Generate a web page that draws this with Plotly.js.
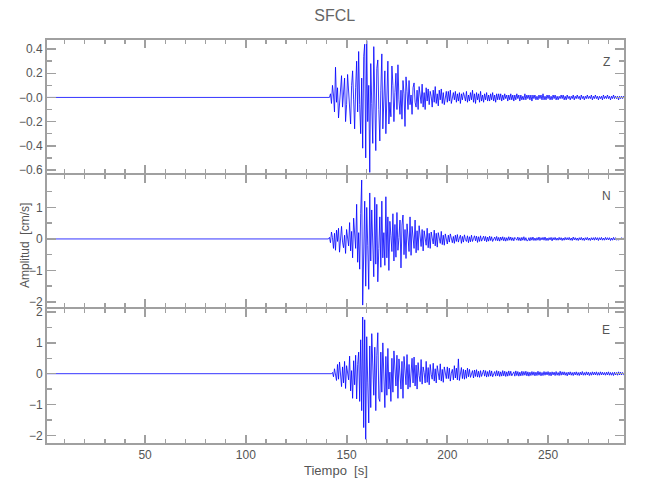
<!DOCTYPE html>
<html>
<head>
<meta charset="utf-8">
<script src="https://cdn.plot.ly/plotly-3.0.1.min.js"></script>
<style>html,body{margin:0;padding:0;background:#fff;}#chart{width:650px;height:500px;}</style>
</head>
<body>
<div id="chart"></div>
<script>
// Sampling of the recorded traces (seconds)
const startTime = 140;
const sampleStep = 0.5;

// Z component [cm/s], from 140 s to 288 s
const zValues = [
0,0,0,0,0.03,-0.05,0.10,0.02,-0.12,0.25,
-0.04,0.08,-0.17,-0.05,0.14,0.18,-0.08,0.04,0.16,-0.20,
-0.06,0.19,0.05,-0.12,-0.22,0.10,0.22,-0.02,-0.26,0.08,
0.30,-0.12,0.38,-0.06,-0.30,0.16,-0.42,0.34,0.44,-0.50,
0.47,-0.20,0.10,-0.62,0.28,-0.05,-0.38,0.42,-0.16,-0.44,
0.24,0.31,-0.10,-0.36,0.06,0.36,-0.26,-0.08,0.22,-0.30,
0.12,0.30,-0.22,-0.04,-0.16,0.26,0.10,-0.20,0.04,0.20,
-0.10,0.27,-0.02,-0.14,0.06,-0.18,0.14,0.03,-0.24,0.17,
0.05,-0.10,0.14,-0.06,0.02,-0.14,0.08,0.12,-0.04,-0.08,
0.06,-0.10,0.09,0.01,-0.05,0.11,-0.08,0.04,-0.10,0.08,
-0.03,0.07,-0.06,0.05,0.01,-0.08,0.06,-0.04,0.09,-0.05,
0.03,-0.07,0.06,-0.02,0.07,-0.05,0.04,-0.06,0.01,0.05,
-0.04,0.05,-0.03,0.06,-0.05,0.01,0.04,-0.02,0.05,-0.04,
0.03,-0.03,0.04,-0.05,0.03,-0.02,0.04,0.01,-0.03,0.05,
-0.04,0.02,-0.03,0.04,-0.02,0.06,-0.04,0.03,-0.05,0.04,
-0.02,0.03,-0.04,0.05,-0.03,0.02,-0.04,0.03,-0.02,0.04,
-0.03,0.02,-0.03,0.03,-0.02,0.04,-0.03,0.02,-0.04,0.03,
-0.02,0.03,-0.02,0.03,-0.03,0.02,-0.02,0.03,-0.01,0.02,
-0.03,0.02,-0.02,0.03,-0.02,0.02,-0.03,0.02,-0.02,0.03,
-0.01,0.02,-0.03,0.02,-0.02,0.01,-0.02,0.03,-0.02,0.02,
-0.01,0.02,-0.02,0.02,-0.03,0.02,-0.01,0.02,-0.02,0.01,
-0.02,0.02,-0.01,0.02,-0.02,0.03,-0.02,0.01,-0.02,0.02,
-0.01,0.02,-0.02,0.01,-0.02,0.02,-0.01,0.02,-0.02,0.01,
-0.02,0.01,-0.01,0.02,-0.01,0.02,-0.02,0.01,-0.02,0.02,
-0.01,0.01,-0.02,0.01,-0.01,0.02,-0.02,0.01,-0.01,0.02,
-0.01,0.01,-0.02,0.02,-0.01,0.01,-0.02,0.01,-0.01,0.02,
-0.01,0.01,-0.01,0.02,-0.02,0.01,-0.01,0.02,-0.01,0.01,
-0.02,0.01,-0.01,0.01,-0.02,0.02,-0.01,0.01,-0.01,0.02,
-0.01,0.01,-0.02,0.01,-0.01,0.02,-0.01,0.01,-0.01,0.01,
-0.02,0.01,-0.01,0.01,-0.01,0.01,0.00
];

// N component [cm/s]
const nValues = [
0,0,0,0.05,-0.12,0.22,0.04,-0.30,0.18,-0.36,
0.28,-0.08,0.34,-0.42,0.16,0.40,-0.10,-0.28,0.12,-0.46,
0.30,0.05,-0.22,0.52,-0.38,0.24,-0.60,0.66,0.10,-0.30,
1.10,-0.74,0.20,-0.96,0.80,1.87,-2.10,0.30,1.20,-1.50,
1.00,-0.20,-1.60,1.46,-0.70,0.92,0.10,-1.20,1.32,-0.80,
1.10,-1.36,-0.30,0.70,-0.90,1.20,-0.60,0.20,-0.84,1.34,
-0.60,0.70,-1.00,0.56,0.10,-0.40,0.80,-0.70,0.46,-0.58,
0.84,-0.36,0.05,0.60,-0.92,0.44,0.76,-0.50,0.30,-0.62,
0.48,-0.10,-0.40,0.70,-0.52,0.40,0.02,-0.30,0.60,-0.44,
0.26,-0.36,0.42,-0.04,-0.24,0.30,-0.38,0.26,0.08,-0.20,
0.34,-0.28,0.18,-0.30,0.22,0.02,-0.16,0.28,-0.22,0.18,
-0.26,0.20,-0.04,-0.14,0.24,-0.18,0.12,-0.20,0.16,-0.06,
-0.16,0.12,-0.10,0.16,0.02,-0.12,0.08,-0.14,0.12,-0.08,
0.14,-0.10,0.03,0.12,-0.14,0.08,-0.10,0.13,-0.02,-0.08,
0.10,-0.12,0.07,-0.09,0.12,-0.08,0.01,0.10,-0.06,0.09,
-0.11,0.07,-0.08,0.10,-0.07,0.02,0.09,-0.06,0.08,-0.09,
0.06,-0.07,0.09,-0.05,0.07,-0.08,0.01,0.06,-0.05,0.08,
-0.06,0.05,-0.07,0.06,-0.04,0.07,-0.06,0.05,-0.07,0.04,
-0.05,0.07,-0.04,0.06,-0.05,0.04,-0.06,0.05,0.01,-0.04,
0.06,-0.05,0.04,-0.06,0.05,-0.04,0.07,-0.05,0.04,-0.06,
-0.05,0.04,-0.06,0.05,-0.04,0.06,-0.05,0.03,-0.05,0.04,
-0.04,0.06,-0.05,0.04,-0.03,0.05,-0.04,0.06,-0.05,0.03,
-0.05,0.04,-0.03,0.05,-0.06,0.04,-0.03,0.05,-0.04,0.03,
-0.04,0.05,-0.03,0.04,-0.05,0.03,-0.04,0.05,-0.03,0.04,
-0.03,0.05,-0.04,0.03,-0.05,0.06,-0.03,0.04,-0.04,0.03,
-0.05,0.04,-0.03,0.05,-0.04,0.03,-0.05,0.04,-0.03,0.05,
-0.04,0.03,-0.05,0.04,-0.03,0.04,-0.04,0.05,-0.03,0.04,
-0.05,0.04,-0.03,0.05,-0.04,0.03,-0.04,0.05,-0.03,0.04,
-0.03,0.04,-0.05,0.03,-0.04,0.05,-0.03,0.04,-0.04,0.03,
-0.04,0.03,-0.03,0.04,-0.03,0.02,0.00
];

// E component [cm/s]
const eValues = [
0,0,0,0,0,0,0.04,-0.10,0.16,0.02,
-0.22,0.30,-0.18,0.38,-0.02,-0.42,0.22,-0.30,0.40,-0.48,
0.26,0.08,-0.20,0.57,-0.56,0.10,-0.80,0.42,-0.36,0.60,
-0.82,0.30,0.70,-0.90,1.10,-1.20,1.84,-1.75,1.75,-2.13,
1.20,-0.30,-1.60,0.90,-1.10,1.30,0.20,-0.70,0.86,-1.20,
0.60,1.33,-0.80,-0.90,0.70,-0.60,1.00,0.10,-1.10,0.56,
-0.70,0.82,-0.50,0.05,-0.90,0.50,-0.60,0.74,0.10,-0.40,
0.60,-0.80,0.48,-0.10,-0.50,0.40,-0.80,0.56,0.05,-0.36,
0.62,-0.50,0.30,-0.44,0.02,0.50,-0.30,0.54,-0.40,0.28,
-0.50,0.36,-0.06,-0.26,0.46,-0.34,0.22,0.04,-0.30,0.40,
-0.28,0.20,-0.36,0.30,-0.02,-0.18,0.34,-0.24,0.16,-0.30,
0.26,-0.04,-0.20,0.32,-0.24,0.14,-0.28,0.22,0.02,-0.16,
0.22,-0.16,0.18,-0.24,0.02,0.14,-0.20,0.26,-0.14,0.18,
-0.20,0.48,-0.22,0.06,0.20,-0.16,0.14,-0.18,0.12,-0.15,
0.18,-0.10,0.14,-0.12,0.01,0.10,-0.14,0.12,-0.09,0.13,
-0.11,0.08,-0.12,0.10,-0.09,0.02,0.12,-0.08,0.10,-0.11,
0.07,-0.09,0.11,-0.08,0.09,-0.10,0.01,0.07,-0.08,0.10,
-0.07,0.08,-0.09,0.06,-0.08,0.10,-0.07,0.08,-0.09,0.06,
-0.08,0.09,-0.06,0.08,-0.07,0.01,0.06,-0.08,0.09,-0.06,
0.07,-0.08,0.05,-0.07,0.08,-0.06,0.07,-0.05,0.08,-0.07,
0.06,-0.08,0.05,-0.06,0.07,-0.05,0.06,-0.07,0.05,-0.06,
0.08,-0.05,0.06,-0.07,0.04,-0.06,0.07,-0.05,0.06,-0.04,
0.07,-0.06,0.05,-0.07,0.06,-0.04,0.05,-0.06,0.07,-0.05,
0.04,-0.06,0.08,-0.05,0.06,-0.04,0.06,-0.05,0.04,-0.07,
0.05,-0.04,0.06,-0.05,0.04,-0.06,0.05,-0.04,0.06,-0.05,
0.04,-0.06,0.05,-0.04,0.07,-0.05,0.04,-0.05,0.06,-0.04,
0.05,-0.06,0.04,-0.05,0.06,-0.04,0.05,-0.04,0.06,-0.05,
0.04,-0.05,0.06,-0.04,0.05,-0.04,0.04,-0.05,0.05,-0.04,
0.06,-0.05,0.04,-0.05,0.04,-0.06,0.05,-0.04,0.04,-0.05,
0.06,-0.04,0.05,-0.04,0.04,-0.03,0.00
];

// Tick labels
const xTickVals = [50, 100, 150, 200, 250];
const xTickText = ['50', '100', '150', '200', '250'];
const zTickVals = [0.4, 0.2, 0, -0.2, -0.4, -0.6];
const zTickText = ['0.4', '0.2', '\u22120.0', '\u22120.2', '\u22120.4', '\u22120.6'];
const nTickVals = [1, 0, -1, -2];
const nTickText = ['1', '0', '\u22121', '\u22122'];
const eTickVals = [2, 1, 0, -1, -2];
const eTickText = ['2', '1', '0', '\u22121', '\u22122'];
const componentNames = ['Z', 'N', 'E'];

function buildTimes(n) {
  const arr = [0];
  for (let i = 0; i < n; i++) arr.push(startTime + i * sampleStep);
  return arr;
}
function withLead(v) { return [0].concat(v); }

const lineStyle = {color: '#0000ff', width: 0.8};
const traces = [
  {x: buildTimes(zValues.length), y: withLead(zValues), xaxis: 'x', yaxis: 'y', type: 'scatter', mode: 'lines', line: lineStyle, hoverinfo: 'skip'},
  {x: buildTimes(nValues.length), y: withLead(nValues), xaxis: 'x2', yaxis: 'y2', type: 'scatter', mode: 'lines', line: lineStyle, hoverinfo: 'skip'},
  {x: buildTimes(eValues.length), y: withLead(eValues), xaxis: 'x3', yaxis: 'y3', type: 'scatter', mode: 'lines', line: lineStyle, hoverinfo: 'skip'}
];

const FONT = '"Liberation Sans", Arial, sans-serif';
const axisColor = '#a0a0a0';
const textColor = '#555';
const xRange = [1.3, 287.7];

function xAxis(anchor, showLabels) {
  const ax = {
    anchor: anchor, range: xRange, showgrid: false, zeroline: false,
    showline: true, linecolor: axisColor, linewidth: 2, mirror: 'ticks',
    ticks: 'inside', ticklen: 8, tickwidth: 2, tickcolor: axisColor,
    tickvals: xTickVals, ticktext: xTickText, showticklabels: showLabels,
    tickfont: {family: FONT, size: 12, color: textColor},
    minor: {dtick: 10, tick0: 0, ticks: 'inside', ticklen: 4, tickwidth: 1.5, tickcolor: axisColor, showgrid: false}
  };
  if (anchor !== 'y') ax.matches = 'x';
  return ax;
}
function yAxis(anchorX, domain, range, vals, text, minorStep) {
  return {
    anchor: anchorX, domain: domain, range: range, showgrid: false, zeroline: false,
    showline: true, linecolor: axisColor, linewidth: 2, mirror: 'ticks',
    ticks: 'inside', ticklen: 9, tickwidth: 1.5, tickcolor: axisColor,
    tickvals: vals, ticktext: text,
    tickfont: {family: FONT, size: 12, color: textColor},
    minor: {dtick: minorStep, tick0: 0, ticks: 'inside', ticklen: 5, tickwidth: 1.5, tickcolor: axisColor, showgrid: false}
  };
}

const layout = {
  width: 650, height: 500,
  margin: {l: 47, r: 26, t: 40, b: 57},
  paper_bgcolor: '#fff', plot_bgcolor: '#fff',
  showlegend: false,
  title: {text: 'SFCL', font: {family: FONT, size: 16, color: '#666'}, x: 0.515, xanchor: 'center', y: 0.97, yanchor: 'middle', yref: 'container'},
  xaxis: xAxis('y', false),
  xaxis2: xAxis('y2', false),
  xaxis3: xAxis('y3', true),
  yaxis: yAxis('x', [0.67, 1], [-0.625, 0.475], zTickVals, zTickText, 0.1),
  yaxis2: yAxis('x2', [0.3375, 0.665], [-2.16, 2.03], nTickVals, nTickText, 0.5),
  yaxis3: yAxis('x3', [0, 0.3325], [-2.25, 2.1], eTickVals, eTickText, 0.5),
  annotations: [
    {text: componentNames[0], xref: 'paper', yref: 'paper', x: 0.969, y: 0.945, xanchor: 'center', yanchor: 'middle', showarrow: false, font: {family: FONT, size: 12, color: textColor}},
    {text: componentNames[1], xref: 'paper', yref: 'paper', x: 0.969, y: 0.613, xanchor: 'center', yanchor: 'middle', showarrow: false, font: {family: FONT, size: 12, color: textColor}},
    {text: componentNames[2], xref: 'paper', yref: 'paper', x: 0.969, y: 0.280, xanchor: 'center', yanchor: 'middle', showarrow: false, font: {family: FONT, size: 12, color: textColor}},
    {text: 'Amplitud  [cm/s]', xref: 'paper', yref: 'paper', x: -0.039, y: 0.49, xanchor: 'center', yanchor: 'middle', textangle: -90, showarrow: false, font: {family: FONT, size: 12, color: textColor}},
    {text: 'Tiempo  [s]', xref: 'paper', yref: 'paper', x: 0.5, y: -0.068, xanchor: 'center', yanchor: 'middle', showarrow: false, font: {family: FONT, size: 13, color: textColor}}
  ]
};

Plotly.newPlot('chart', traces, layout, {displayModeBar: false, staticPlot: true});
</script>
</body>
</html>
